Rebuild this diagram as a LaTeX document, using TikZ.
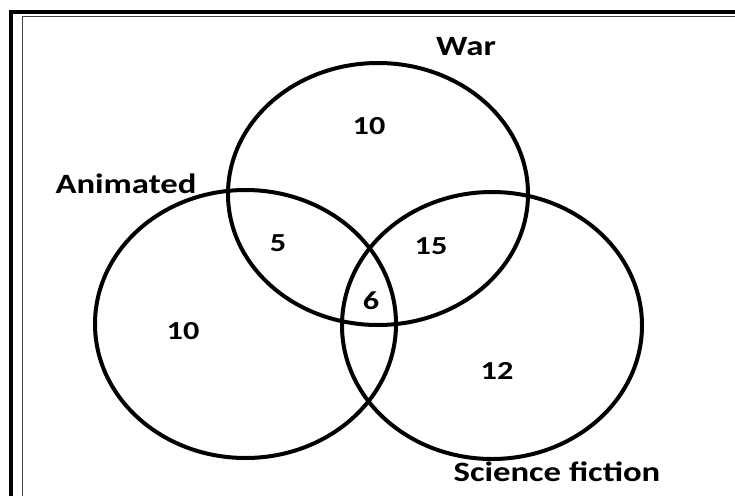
\documentclass[tikz,border=0pt]{standalone}
\usepackage{fontspec}
\setmainfont{Carlito}[FakeStretch=1.24]
\begin{document}
\begin{tikzpicture}[x=1pt,y=-1pt,
  venn/.style={draw=black,line width=4pt},
  lbl/.style={font=\bfseries\fontsize{28}{30}\selectfont,inner sep=0pt,text depth=0pt,anchor=center},
  num/.style={font=\bfseries\fontsize{26}{28}\selectfont,inner sep=0pt,text depth=0pt,anchor=center}]
\useasboundingbox (0,0) rectangle (735,495);
\clip (0,0) rectangle (735,495);
\fill[white] (0,0) rectangle (735,495);
% frame
\coordinate (fa) at (11,500);
\coordinate (fb) at (11,12);
\coordinate (fc) at (740,12);
\coordinate (ga) at (22.5,500);
\coordinate (gb) at (22.5,16.5);
\coordinate (gc) at (740,16.5);
\draw[line width=4pt] (fa) -- (fb) -- (fc);
\draw[line width=1.8pt,black!75] (ga) -- (gb) -- (gc);
% circles
\draw[venn] (378,194) ellipse [x radius=150, y radius=131];
\draw[venn] (245.5,324) ellipse [x radius=150.5, y radius=134];
\draw[venn] (492,325.5) ellipse [x radius=150, y radius=133.5];
% labels
\node[lbl] (war) at (466,46) {War};
\node[lbl] (anim) at (126,184) {Animated};
\node[lbl] (sci) at (557,472) {Science fiction};
% numbers
\node[num] (n1) at (369,126) {10};
\node[num] (n2) at (278,243) {5};
\node[num] (n3) at (431,246) {15};
\node[num] (n4) at (371,301) {6};
\node[num] (n5) at (183,331) {10};
\node[num] (n6) at (497,371) {12};
\end{tikzpicture}
\end{document}
